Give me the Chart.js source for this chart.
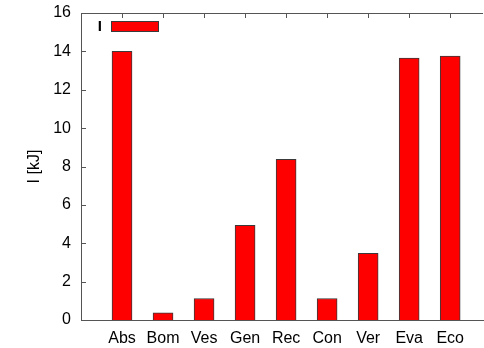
<!DOCTYPE html>
<html>
<head>
<meta charset="utf-8">
<script src="https://cdn.jsdelivr.net/npm/chart.js@4"></script>
<style>
  html, body { margin: 0; padding: 0; background: #fff; overflow: hidden; }
  #wrap { width: 484px; height: 348px; }
</style>
</head>
<body>
<div id="wrap"><canvas id="bar-chart"></canvas></div>
<script>
// values
const categories = ['Abs', 'Bom', 'Ves', 'Gen', 'Rec', 'Con', 'Ver', 'Eva', 'Eco'];
const energy = [14.0, 0.37, 1.12, 4.93, 8.38, 1.12, 3.47, 13.65, 13.75];
const yTicks = [0, 2, 4, 6, 8, 10, 12, 14, 16];
const seriesLabel = 'I';

const frameColor = '#555555';

// gnuplot-ish frame: top line, inward ticks, legend key
const framePlugin = {
    id: 'frame',
    beforeDatasetsDraw(chart) {
        const { ctx, chartArea: a, scales } = chart;
        ctx.save();
        ctx.strokeStyle = frameColor;
        ctx.lineWidth = 1;
        ctx.beginPath();
        ctx.moveTo(a.left, a.top + 0.5);
        ctx.lineTo(a.right, a.top + 0.5);
        yTicks.forEach(v => {
            const y = Math.round(scales.y.getPixelForValue(v)) + 0.5;
            ctx.moveTo(a.left, y);
            ctx.lineTo(a.left + 5, y);
        });
        categories.forEach((c, i) => {
            const x = Math.round(scales.x.getPixelForValue(i + 1)) + 0.5;
            ctx.moveTo(x, a.top);
            ctx.lineTo(x, a.top + 5);
            ctx.moveTo(x, a.bottom);
            ctx.lineTo(x, a.bottom - 5);
        });
        ctx.stroke();
        ctx.restore();
    },
    afterDraw(chart) {
        const { ctx, chartArea: a } = chart;
        ctx.save();
        ctx.font = 'bold 15px "Liberation Sans", Arial, sans-serif';
        ctx.fillStyle = '#000';
        ctx.textAlign = 'right';
        ctx.textBaseline = 'middle';
        ctx.fillText(seriesLabel, a.left + 21, a.top + 14);
        ctx.fillStyle = '#ff0000';
        ctx.strokeStyle = '#3a3a3a';
        ctx.fillRect(a.left + 31, a.top + 9, 46, 9);
        ctx.strokeRect(a.left + 30.5, a.top + 8.5, 47, 10);
        ctx.restore();
    }
};

const ctx = document.getElementById('bar-chart').getContext('2d');
const myChart = new Chart(ctx, {
    type: 'bar',
    data: {
        datasets: [{
            label: seriesLabel,
            data: energy.map((v, i) => ({ x: i + 1, y: v })),
            backgroundColor: '#ff0000',
            borderColor: '#3a3a3a',
            borderWidth: 1,
            barThickness: 20
        }]
    },
    options: {
        responsive: true,
        maintainAspectRatio: false,
        animation: false,
        layout: { padding: { left: 0, right: 1, top: 13, bottom: 0 } },
        plugins: {
            legend: { display: false },
            tooltip: { enabled: false }
        },
        scales: {
            x: {
                type: 'linear',
                offset: false,
                min: 0,
                max: 9.8,
                afterBuildTicks: axis => {
                    axis.ticks = categories.map((c, i) => ({ value: i + 1 }));
                },
                afterFit: scale => { scale.height = 28; },
                grid: { display: false },
                border: { display: true, color: frameColor, width: 1 },
                ticks: {
                    autoSkip: false,
                    maxRotation: 0,
                    padding: 1,
                    color: '#000',
                    font: { family: '"Liberation Sans", Arial, sans-serif', size: 16 },
                    callback: v => categories[v - 1]
                }
            },
            y: {
                min: 0,
                max: 16,
                afterFit: scale => { scale.width = 81; },
                grid: { display: false },
                border: { display: true, color: frameColor, width: 1 },
                ticks: {
                    stepSize: 2,
                    padding: 2,
                    color: '#000',
                    font: { family: '"Liberation Sans", Arial, sans-serif', size: 16 }
                },
                title: {
                    display: true,
                    text: 'I [kJ]',
                    color: '#000',
                    padding: { top: 25, bottom: 0 },
                    font: { family: '"Liberation Sans", Arial, sans-serif', size: 16 }
                }
            }
        }
    },
    plugins: [framePlugin]
});
</script>
</body>
</html>
